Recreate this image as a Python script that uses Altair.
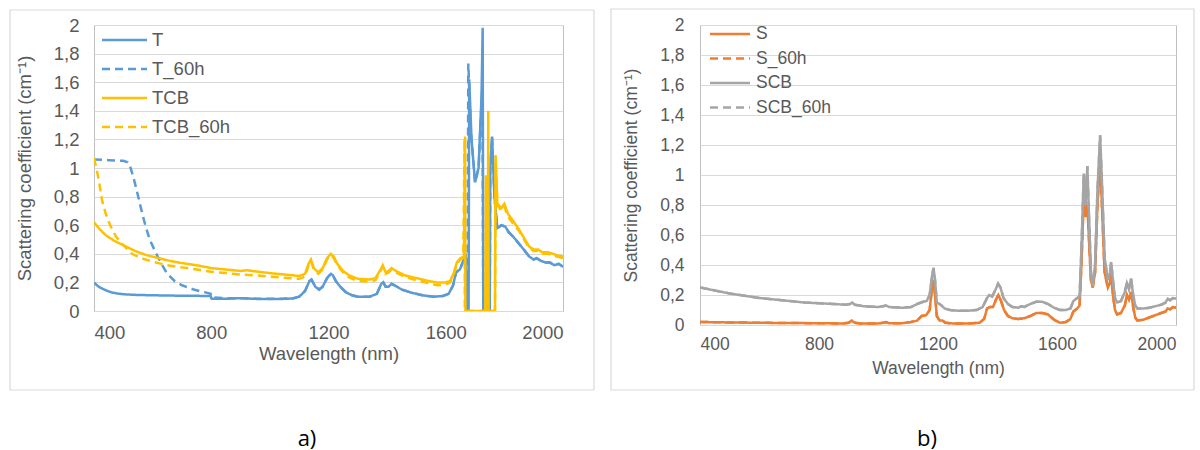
import altair as alt
import pandas as pd

# ---------------- data ----------------
x_ticks = [400, 800, 1200, 1600, 2000]
y_ticks = [0, 0.2, 0.4, 0.6, 0.8, 1.0, 1.2, 1.4, 1.6, 1.8, 2.0]
panel_labels = ["a)", "b)"]
y_title = "Scattering coefficient (cm\u207b\u00b9)"
x_title = "Wavelength (nm)"

series_a = ["T", "T_60h", "TCB", "TCB_60h"]
series_b = ["S", "S_60h", "SCB", "SCB_60h"]

T_wl = [400, 410, 420, 440, 460, 480, 500, 550, 600, 650, 700, 750, 798, 800, 802, 850, 900, 920, 950, 1000,
        1050, 1080, 1100, 1120, 1135, 1142, 1155, 1168, 1180, 1195, 1208, 1215, 1225, 1240, 1260, 1280, 1300,
        1340, 1365, 1380, 1387, 1395, 1405, 1415, 1425, 1450, 1480, 1520, 1560, 1590, 1610, 1625, 1635, 1648,
        1660, 1668, 1672, 1678, 1680, 1688, 1700, 1712, 1722, 1726, 1728, 1750, 1752, 1758, 1766, 1776, 1790,
        1803, 1815, 1830, 1850, 1870, 1885, 1900, 1910, 1925, 1940, 1955, 1970, 1985, 2000]
T_val = [0.20, 0.18, 0.165, 0.145, 0.13, 0.122, 0.117, 0.112, 0.11, 0.108, 0.107, 0.106, 0.105, 0.09, 0.085,
         0.085, 0.09, 0.088, 0.085, 0.083, 0.085, 0.088, 0.1, 0.14, 0.21, 0.22, 0.17, 0.15, 0.17, 0.23, 0.26,
         0.25, 0.21, 0.17, 0.13, 0.11, 0.1, 0.1, 0.12, 0.19, 0.2, 0.17, 0.17, 0.19, 0.18, 0.15, 0.13, 0.11, 0.1,
         0.105, 0.12, 0.18, 0.27, 0.29, 0.35, 0.4, 0.0, 0.0, 1.62, 1.2, 0.9, 1.0, 1.5, 1.98, 0.0, 0.0, 1.0,
         1.22, 0.8, 0.58, 0.6, 0.59, 0.55, 0.52, 0.47, 0.42, 0.38, 0.36, 0.37, 0.35, 0.34, 0.34, 0.32, 0.33, 0.31]

T60_wl = [400, 450, 500, 515, 525, 535, 545, 560, 575, 590, 610, 630, 650, 675, 700, 740, 780, 798, 800, 805,
          850, 900, 950, 1000, 1050, 1080, 1100, 1120, 1135, 1142, 1155, 1168, 1180, 1195, 1208, 1215, 1225,
          1240, 1260, 1280, 1300, 1340, 1365, 1380, 1387, 1395, 1405, 1415, 1425, 1450, 1480, 1520, 1560,
          1590, 1610, 1625, 1635, 1648, 1660, 1668, 1672, 1674, 1677, 1686, 1700, 1712, 1722, 1725, 1728,
          1750, 1752, 1758, 1766, 1776, 1790, 1803, 1815, 1830, 1850, 1870, 1885, 1900, 1910, 1925, 1940,
          1955, 1970, 1985, 2000]
T60_val = [1.06, 1.055, 1.05, 1.04, 1.0, 0.93, 0.85, 0.72, 0.6, 0.5, 0.41, 0.33, 0.26, 0.21, 0.18, 0.15, 0.13,
           0.12, 0.1, 0.095, 0.09, 0.09, 0.085, 0.085, 0.087, 0.09, 0.1, 0.14, 0.21, 0.22, 0.17, 0.15, 0.17,
           0.23, 0.26, 0.25, 0.21, 0.17, 0.13, 0.11, 0.1, 0.1, 0.12, 0.19, 0.2, 0.17, 0.17, 0.19, 0.18, 0.15,
           0.13, 0.11, 0.1, 0.105, 0.12, 0.18, 0.27, 0.29, 0.35, 0.4, 0.0, 0.0, 1.73, 1.25, 0.9, 1.0, 1.45,
           1.6, 0.0, 0.0, 1.0, 1.22, 0.8, 0.58, 0.6, 0.59, 0.55, 0.52, 0.47, 0.42, 0.38, 0.36, 0.37, 0.35, 0.34,
           0.34, 0.32, 0.33, 0.31]

TCB_wl = [400, 420, 440, 470, 500, 540, 580, 620, 660, 700, 750, 800, 850, 900, 920, 940, 1000, 1050, 1100,
          1120, 1132, 1140, 1150, 1165, 1180, 1195, 1208, 1218, 1230, 1250, 1270, 1300, 1340, 1360, 1375, 1385,
          1395, 1405, 1415, 1430, 1460, 1500, 1540, 1570, 1600, 1615, 1628, 1638, 1650, 1662, 1666, 1667,
          1735, 1737, 1739, 1743, 1745, 1746, 1768, 1770, 1776, 1790, 1800, 1812, 1830, 1850, 1870, 1885,
          1900, 1915, 1930, 1950, 1965, 1980, 2000]
TCB_val = [0.62, 0.57, 0.53, 0.49, 0.46, 0.42, 0.39, 0.37, 0.35, 0.335, 0.32, 0.3, 0.29, 0.28, 0.285, 0.28,
           0.265, 0.255, 0.245, 0.26, 0.33, 0.36, 0.3, 0.27, 0.3, 0.37, 0.4, 0.38, 0.33, 0.28, 0.25, 0.225,
           0.22, 0.23, 0.28, 0.32, 0.27, 0.28, 0.3, 0.28, 0.25, 0.23, 0.21, 0.2, 0.2, 0.21, 0.27, 0.34, 0.37,
           0.38, 1.22, 0.0, 0.0, 0.95, 0.0, 0.0, 1.4, 0.0, 0.0, 1.09, 0.75, 0.72, 0.75, 0.68, 0.63, 0.57, 0.5,
           0.45, 0.43, 0.43, 0.41, 0.41, 0.4, 0.39, 0.38]

TCB60_wl = [400, 408, 416, 427, 440, 455, 475, 500, 530, 560, 600, 650, 700, 750, 800, 850, 900, 950, 1000,
            1050, 1100, 1120, 1132, 1140, 1150, 1165, 1180, 1195, 1208, 1218, 1230, 1250, 1270, 1300, 1340,
            1360, 1375, 1385, 1395, 1405, 1415, 1430, 1460, 1500, 1540, 1570, 1600, 1615, 1628, 1638, 1650,
            1660, 1664, 1665, 1768, 1770, 1776, 1790, 1800, 1812, 1830, 1850, 1870, 1885, 1900, 1915, 1930,
            1950, 1965, 1980, 2000]
TCB60_val = [1.07, 1.0, 0.92, 0.78, 0.68, 0.6, 0.52, 0.46, 0.4, 0.37, 0.345, 0.32, 0.305, 0.29, 0.275, 0.265,
             0.255, 0.25, 0.24, 0.232, 0.225, 0.24, 0.32, 0.35, 0.29, 0.26, 0.29, 0.36, 0.39, 0.37, 0.32, 0.27,
             0.235, 0.21, 0.205, 0.215, 0.27, 0.31, 0.26, 0.27, 0.29, 0.27, 0.24, 0.215, 0.195, 0.18, 0.185,
             0.2, 0.26, 0.33, 0.36, 0.37, 1.2, 0.0, 0.0, 1.05, 0.74, 0.7, 0.73, 0.66, 0.61, 0.56, 0.49, 0.44,
             0.42, 0.42, 0.4, 0.4, 0.39, 0.38, 0.37]

S_wl = [400, 500, 600, 700, 800, 880, 900, 910, 920, 940, 1000, 1015, 1025, 1035, 1080, 1110, 1130, 1145, 1160,
        1172, 1180, 1185, 1190, 1196, 1205, 1215, 1225, 1250, 1300, 1340, 1355, 1365, 1375, 1385, 1395, 1403,
        1412, 1422, 1435, 1450, 1470, 1490, 1510, 1530, 1550, 1570, 1590, 1610, 1630, 1645, 1655, 1668, 1676,
        1682, 1690, 1696, 1702, 1708, 1714, 1720, 1728, 1736, 1745, 1752, 1760, 1771, 1778, 1782, 1788, 1795,
        1802, 1815, 1828, 1835, 1842, 1849, 1856, 1863, 1870, 1890, 1910, 1930, 1950, 1965, 1972, 1980, 1990,
        2000]
S_val = [0.02, 0.017, 0.015, 0.013, 0.012, 0.01, 0.015, 0.03, 0.015, 0.01, 0.01, 0.015, 0.02, 0.012, 0.012,
         0.02, 0.03, 0.06, 0.065, 0.1, 0.25, 0.3, 0.2, 0.06, 0.03, 0.03, 0.015, 0.01, 0.01, 0.015, 0.04, 0.11,
         0.12, 0.12, 0.17, 0.2, 0.16, 0.1, 0.06, 0.045, 0.04, 0.045, 0.06, 0.08, 0.08, 0.07, 0.035, 0.015, 0.02,
         0.04, 0.09, 0.11, 0.13, 0.4, 0.85, 0.72, 0.8, 0.55, 0.3, 0.25, 0.35, 0.8, 1.1, 0.75, 0.35, 0.25, 0.28,
         0.35, 0.2, 0.1, 0.07, 0.08, 0.13, 0.2, 0.17, 0.22, 0.12, 0.05, 0.03, 0.035, 0.05, 0.065, 0.08, 0.09,
         0.11, 0.105, 0.12, 0.115]

SCB_wl = [400, 450, 500, 550, 600, 650, 700, 750, 800, 850, 890, 905, 912, 920, 950, 1000, 1015, 1025, 1035,
          1080, 1110, 1130, 1150, 1162, 1172, 1180, 1185, 1190, 1196, 1205, 1212, 1222, 1240, 1270, 1300, 1330,
          1350, 1365, 1372, 1382, 1392, 1402, 1410, 1420, 1435, 1450, 1470, 1480, 1490, 1510, 1530, 1550, 1570,
          1590, 1610, 1630, 1645, 1655, 1668, 1676, 1682, 1690, 1696, 1702, 1708, 1714, 1720, 1728, 1736, 1745,
          1752, 1760, 1771, 1778, 1782, 1788, 1795, 1802, 1815, 1828, 1835, 1842, 1849, 1856, 1863, 1870, 1890,
          1910, 1930, 1950, 1965, 1972, 1980, 1990, 2000]
SCB_val = [0.25, 0.23, 0.21, 0.195, 0.18, 0.17, 0.16, 0.15, 0.145, 0.14, 0.135, 0.14, 0.15, 0.135, 0.125,
           0.12, 0.125, 0.13, 0.12, 0.115, 0.12, 0.14, 0.155, 0.16, 0.2, 0.33, 0.38, 0.3, 0.15, 0.14, 0.13, 0.11,
           0.1, 0.095, 0.095, 0.1, 0.12, 0.18, 0.2, 0.19, 0.23, 0.275, 0.25, 0.18, 0.14, 0.12, 0.115, 0.125,
           0.12, 0.14, 0.155, 0.155, 0.14, 0.115, 0.1, 0.1, 0.11, 0.16, 0.18, 0.19, 0.5, 1.01, 0.8, 1.06, 0.7,
           0.35, 0.26, 0.4, 0.9, 1.265, 0.9, 0.45, 0.3, 0.35, 0.42, 0.3, 0.18, 0.15, 0.16, 0.22, 0.28, 0.24,
           0.31, 0.2, 0.13, 0.11, 0.11, 0.115, 0.125, 0.135, 0.15, 0.175, 0.165, 0.18, 0.175]

# the 60h curves of panel b) lie exactly under the fresh ones
S60_wl, S60_val = S_wl, S_val
SCB60_wl, SCB60_val = SCB_wl, SCB_val

colors_a = ["#5B9BD5", "#5B9BD5", "#FFC000", "#FFC000"]
colors_b = ["#ED7D31", "#ED7D31", "#A5A5A5", "#A5A5A5"]
dashes = [[1, 0], [8, 5], [1, 0], [8, 5]]


def long_df(names, wls, vals):
    rows = []
    for name, wl, vv in zip(names, wls, vals):
        for i, (w, v) in enumerate(zip(wl, vv)):
            rows.append({"series": name, "wavelength": w, "value": v, "idx": i})
    return pd.DataFrame(rows)


df_a = long_df(series_a, [T_wl, T60_wl, TCB_wl, TCB60_wl], [T_val, T60_val, TCB_val, TCB60_val])
df_b = long_df(series_b, [S_wl, S60_wl, SCB_wl, SCB60_wl], [S_val, S60_val, SCB_val, SCB60_val])

FONT = "Liberation Sans"
GREY = "#595959"
Y_LABEL_EXPR = ("datum.value == 0 ? '0' : (datum.value == 1 ? '1' : (datum.value == 2 ? '2' : "
                "replace(format(datum.value, '.1f'), '.', ',')))")


def panel(df, names, colors, fs, lfs, w, h, leg, xpad, ypad, frame, label, label_xy):
    legend = alt.Legend(title=None, orient="none", legendX=leg["x"], legendY=leg["y"],
                        symbolType="M-3,0L3,0", symbolSize=leg["size"], symbolStrokeWidth=2.5,
                        labelFont=FONT, labelFontSize=lfs, labelColor=GREY, labelOffset=leg["lo"],
                        rowPadding=leg["rp"], padding=0)
    lines = alt.Chart(df).mark_line(strokeWidth=2.5, clip=True).encode(
        x=alt.X("wavelength:Q", scale=alt.Scale(domain=[400, 2000], nice=False, zero=False),
                axis=alt.Axis(values=x_ticks, format="d", title=x_title, grid=False, ticks=False,
                              domain=False, labelFont=FONT, labelFontSize=fs, labelColor=GREY,
                              labelPadding=xpad[0], titleFont=FONT, titleFontSize=fs,
                              titleFontWeight="normal", titleColor=GREY, titlePadding=xpad[1])),
        y=alt.Y("value:Q", scale=alt.Scale(domain=[0, 2], nice=False),
                axis=alt.Axis(values=y_ticks, labelExpr=Y_LABEL_EXPR, title=y_title, grid=True,
                              gridColor="#D9D9D9", ticks=False, domain=False, labelFont=FONT,
                              labelFontSize=fs, labelColor=GREY, labelPadding=ypad[0], titleFont=FONT,
                              titleFontSize=fs, titleFontWeight="normal", titleColor=GREY,
                              titlePadding=ypad[1])),
        color=alt.Color("series:N", scale=alt.Scale(domain=names, range=colors), legend=legend),
        strokeDash=alt.StrokeDash("series:N", scale=alt.Scale(domain=names, range=dashes), legend=legend),
        order=alt.Order("idx:Q"),
    )
    box = alt.Chart(pd.DataFrame({"k": [0]})).mark_rect(
        fillOpacity=0, stroke="#D9D9D9", strokeWidth=1.2).encode(
        x=alt.value(frame[0]), x2=alt.value(frame[1]), y=alt.value(frame[2]), y2=alt.value(frame[3]))
    lab = alt.Chart(pd.DataFrame({"t": [label]})).mark_text(
        font="Open Sans", fontSize=22, color="#000000").encode(
        text="t:N", x=alt.value(label_xy[0]), y=alt.value(label_xy[1]))
    return alt.layer(box, lines, lab).properties(width=w, height=h)


left = panel(df_a, series_a, colors_a, 18.5, 18.5, 469, 286,
             {"x": 21.25, "y": 5.75, "size": 225, "lo": 18.25, "rp": 10},
             (12, 3), (15, 19), (-84, 500, -15, 365), panel_labels[0], (213, 414))
right = panel(df_b, series_b, colors_b, 17.5, 17.5, 476, 300,
              {"x": 21.25, "y": 0.25, "size": 178, "lo": 17.25, "rp": 5.5},
              (10.5, 6), (16, 19), (-89, 494, -16, 365), panel_labels[1], (227, 414))

chart = alt.hconcat(left, right, spacing=137, bounds="flush").resolve_scale(
    color="independent", strokeDash="independent").resolve_legend(
    color="independent", strokeDash="independent").properties(
    padding={"left": 8, "top": 7, "right": 0, "bottom": 0}, background="white"
).configure_view(stroke="#BFBFBF", strokeWidth=1)

chart.save("out.html", embed_options={"renderer": "svg", "actions": False})
